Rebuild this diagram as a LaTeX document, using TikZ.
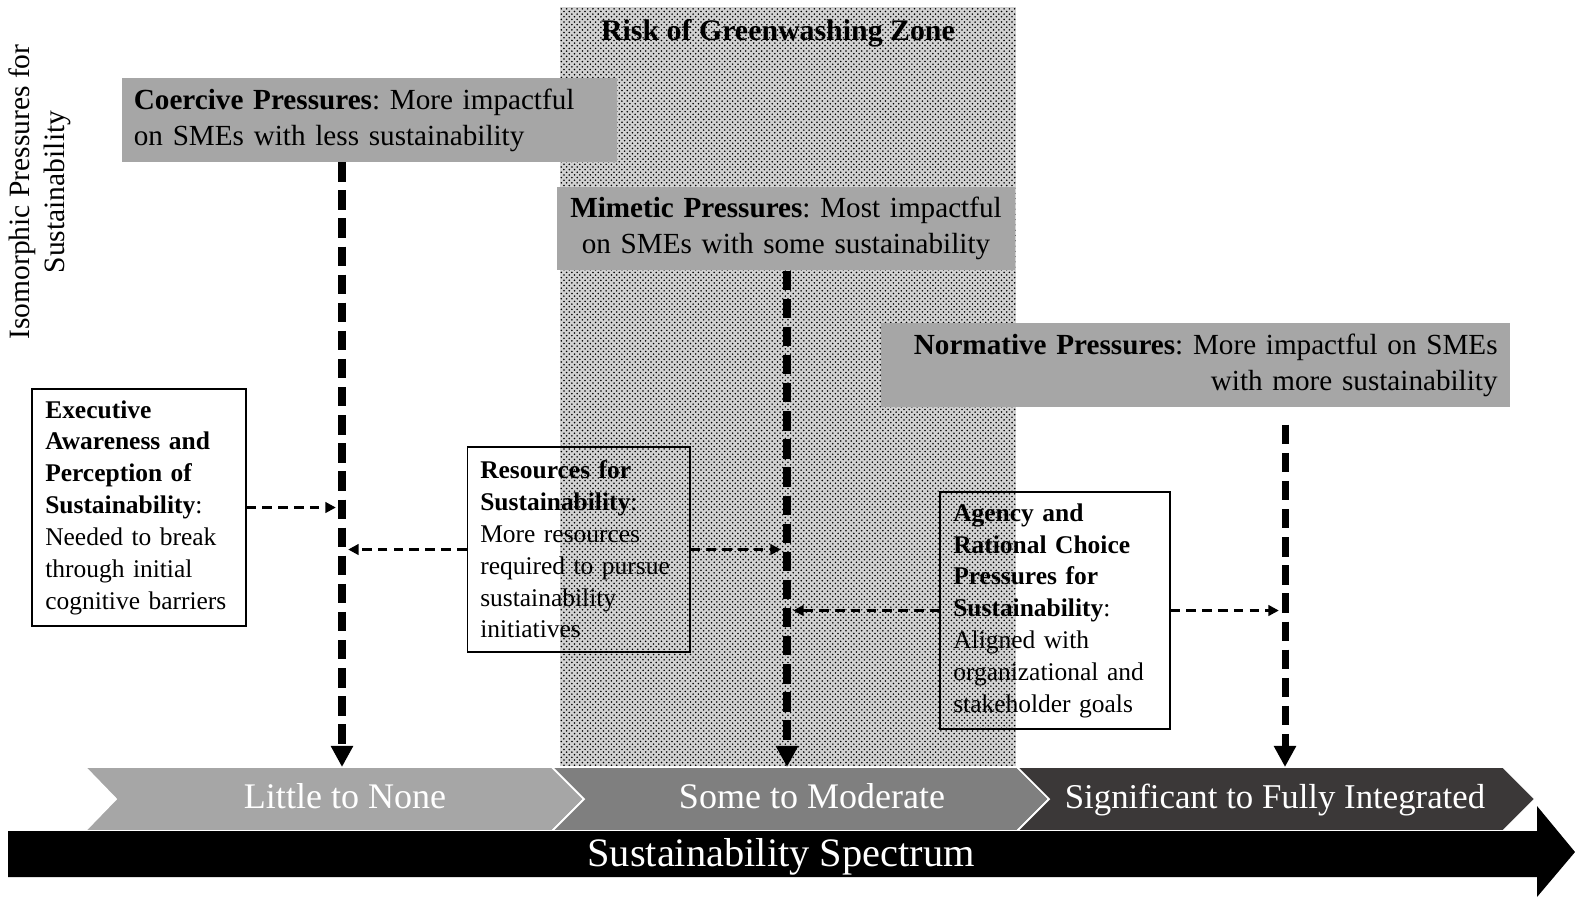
\documentclass[tikz,border=0pt]{standalone}
\usepackage{fontspec}
\setmainfont{Liberation Serif}
\frenchspacing
\usetikzlibrary{arrows.meta,patterns}
\definecolor{boxgray}{HTML}{A6A6A6}
\definecolor{chevmid}{HTML}{7F7F7F}
\definecolor{chevdark}{HTML}{3B3838}
\tikzset{
  pressbox/.style={fill=boxgray, inner xsep=6.8pt, minimum height=47.6pt,
    font=\fontsize{16.6}{20.4}\selectfont},
  factorbox/.style={draw, line width=1.1pt, inner xsep=7.3pt, align=left,
    font=\fontsize{14.5}{18.1}\selectfont},
  pressure/.style={line width=4pt, dash pattern=on 11pt off 5pt,
    -{Triangle[length=12pt,width=12pt]}},
  factorlink/.style={line width=1.7pt, dash pattern=on 5.5pt off 3.5pt,
    -{Triangle[length=6pt,width=6pt]}, shorten >=3.5pt},
  chevlabel/.style={text=white, anchor=base, font=\fontsize{20.5}{24}\selectfont},
}
\begin{document}
\begin{tikzpicture}[x=0.02cm, y=-0.02cm]
\useasboundingbox (0,0) rectangle (1575,897);
\fill[white] (0,0) rectangle (1575,897);
% greenwashing zone
\fill[gray!35] (560,7) rectangle (1016,767);
\fill[pattern=crosshatch dots, pattern color=black] (560,7) rectangle (1016,767);
\node[font=\bfseries\fontsize{17}{20}\selectfont] (zone) at (778,33) {Risk of Greenwashing Zone};
\node[rotate=90, align=center, font=\fontsize{16.8}{19.8}\selectfont] (axis) at (40,192)
  {Isomorphic Pressures for\\Sustainability};
% spectrum
\filldraw[fill=boxgray, draw=white, line width=1pt] (85,767) -- (552,767) -- (584,799) -- (552,831) -- (85,831) -- (116,799) -- cycle;
\filldraw[fill=chevmid, draw=white, line width=1pt] (552,767) -- (1017,767) -- (1049,799) -- (1017,831) -- (552,831) -- (584,799) -- cycle;
\filldraw[fill=chevdark, draw=white, line width=1pt] (1017,767) -- (1503,767) -- (1535,799) -- (1503,831) -- (1017,831) -- (1049,799) -- cycle;
\fill (8,831) -- (1537,831) -- (1537,806) -- (1575,852) -- (1537,897) -- (1537,877) -- (8,877) -- cycle;
\node[chevlabel] (little) at (345,808) {Little to None};
\node[chevlabel] (some) at (812,808) {Some to Moderate};
\node[chevlabel, font=\fontsize{19.8}{24}\selectfont] (full) at (1275,808) {Significant to Fully Integrated};
\node[text=white, anchor=base, font=\fontsize{23}{26}\selectfont] (spectrum) at (781,866) {Sustainability Spectrum};
\coordinate (lowtip) at (342,767);
\coordinate (modtip) at (787,767);
\coordinate (fulltip) at (1285,767);
% pressures
\node[pressbox, text width=268.2pt, minimum width=281.8pt, align=left] (coercive) at (369.5,120)
  {\textbf{Coercive Pressures}: More impactful\\on SMEs with less sustainability};
\node[pressbox, inner xsep=2pt, text width=256.8pt, minimum width=260.8pt, align=center] (mimetic) at (786,228.5)
  {\textbf{Mimetic Pressures}: Most impactful\\on SMEs with some sustainability};
\node[pressbox, text width=343.9pt, minimum width=357.5pt, align=right] (normative) at (1195.5,365)
  {\textbf{Normative Pressures}: More impactful on SMEs\\with more sustainability};
\draw[pressure] (coercive.south -| lowtip) -- (lowtip);
\draw[pressure] (mimetic.south -| modtip) -- (modtip);
\draw[pressure, shorten <=10pt] (normative.south -| fulltip) -- (fulltip);
% factors
\node[factorbox, text width=106.7pt, minimum width=121.3pt, minimum height=134.4pt] (awareness) at (139,507.5)
  {\textbf{Executive}\\\textbf{Awareness and}\\\textbf{Perception of}\\\textbf{Sustainability}:\\Needed to break\\through initial\\cognitive barriers};
\node[factorbox, text width=111.8pt, minimum width=126.4pt, minimum height=116.2pt] (resources) at (578.5,549.5)
  {\textbf{Resources for}\\\textbf{Sustainability}:\\More resources\\required to pursue\\sustainability\\initiatives};
\node[factorbox, text width=115.8pt, minimum width=130.4pt, minimum height=134.4pt] (agency) at (1055,610.5)
  {\textbf{Agency and}\\\textbf{Rational Choice}\\\textbf{Pressures for}\\\textbf{Sustainability}:\\Aligned with\\organizational and\\stakeholder goals};
\draw[factorlink] (awareness.east) -- (awareness.east -| lowtip);
\draw[factorlink] (resources.west) -- (resources.west -| lowtip);
\draw[factorlink] (resources.east) -- (resources.east -| modtip);
\draw[factorlink] (agency.west) -- (agency.west -| modtip);
\draw[factorlink] (agency.east) -- (agency.east -| fulltip);
\end{tikzpicture}
\end{document}
